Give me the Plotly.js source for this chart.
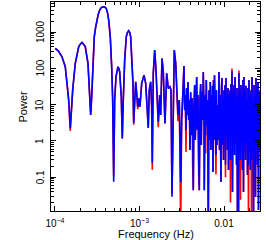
<!DOCTYPE html>
<html>
<head>
<meta charset="utf-8">
<script src="https://cdn.plot.ly/plotly-3.0.1.min.js"></script>
<style>html,body{margin:0;padding:0;background:#fff;}#chart{width:266px;height:240px;}</style>
</head>
<body>
<div id="chart"></div>
<script>
const freq = [
1.008e-4,1.100e-4,1.210e-4,1.324e-4,1.387e-4,1.453e-4,1.517e-4,1.559e-4,1.620e-4,1.739e-4,
1.908e-4,1.995e-4,2.087e-4,2.180e-4,2.284e-4,2.458e-4,2.545e-4,2.646e-4,2.719e-4,2.793e-4,2.918e-4,
3.015e-4,3.141e-4,3.254e-4,3.381e-4,3.531e-4,3.698e-4,3.875e-4,4.045e-4,4.193e-4,4.320e-4,4.428e-4,
4.512e-4,4.688e-4,4.817e-4,4.950e-4,5.087e-4,5.271e-4,5.418e-4,5.566e-4,5.705e-4,5.830e-4,
6.090e-4,6.257e-4,6.431e-4,6.681e-4,6.979e-4,7.191e-4,7.450e-4,7.677e-4,7.866e-4,8.149e-4,
8.375e-4,8.537e-4,8.772e-4,9.016e-4,9.341e-4,9.521e-4,9.864e-4,1.0137e-3,1.0617e-3,1.1304e-3,
1.1841e-3,1.2368e-3,1.2709e-3,1.3061e-3,1.3567e-3,1.3943e-3,1.4173e-3,1.4564e-3,1.5131e-3,1.5677e-3,
1.6242e-3,1.6690e-3,1.7340e-3,1.7822e-3,1.8462e-3,1.9128e-3,1.9656e-3,2.0036e-3,2.0989e-3,2.1919e-3,
2.2961e-3,2.3595e-3,2.4246e-3,2.4914e-3,2.5812e-3,2.6816e-3,2.7555e-3,2.8549e-3,2.9580e-3,3.0733e-3,
3.1580e-3,3.2721e-3,
3.362e-3,3.427e-3,3.483e-3,3.550e-3,3.618e-3,3.678e-3,3.749e-3,3.821e-3,3.885e-3,3.959e-3,
4.035e-3,4.101e-3,4.181e-3,4.262e-3,4.331e-3,4.415e-3,4.500e-3,4.574e-3,4.662e-3,4.752e-3,
4.830e-3,4.923e-3,5.018e-3,5.101e-3,5.199e-3,5.299e-3,5.386e-3,5.490e-3,5.596e-3,5.687e-3,
5.797e-3,5.845e-3,5.957e-3,6.072e-3,6.172e-3,6.291e-3,6.412e-3,6.518e-3,6.643e-3,6.771e-3,
6.883e-3,
7.015e-3,7.111e-3,7.209e-3,7.308e-3,7.408e-3,7.510e-3,7.613e-3,7.717e-3,7.823e-3,7.930e-3,
8.039e-3,8.149e-3,8.261e-3,8.374e-3,8.489e-3,8.605e-3,8.724e-3,8.844e-3,8.965e-3,9.088e-3,
9.212e-3,9.338e-3,9.467e-3,9.597e-3,9.728e-3,9.861e-3,9.997e-3,1.0134e-2,1.0273e-2,1.0414e-2,
1.0557e-2,1.0702e-2,1.0849e-2,1.0998e-2,1.1148e-2,1.1301e-2,1.1456e-2,1.1613e-2,1.1773e-2,1.1934e-2,
1.2098e-2,1.2264e-2,1.2432e-2,1.2603e-2,1.2776e-2,1.2951e-2,1.3129e-2,1.3309e-2,1.3491e-2,1.3676e-2,
1.3864e-2,1.4054e-2,1.4247e-2,1.4443e-2,1.4640e-2,1.4841e-2,1.5045e-2,1.5251e-2,1.5460e-2,1.5672e-2,
1.5887e-2,1.6105e-2,1.6326e-2,1.6550e-2,1.6777e-2,1.7007e-2,1.7240e-2,1.7476e-2,1.7716e-2,1.7959e-2,
1.8206e-2,1.8456e-2,1.8709e-2,1.8966e-2,1.9225e-2,1.9489e-2,1.9756e-2,2.0027e-2,2.0302e-2,2.0581e-2,
2.0863e-2,2.1149e-2,2.1439e-2,2.1733e-2,2.2031e-2,2.2333e-2,2.2640e-2,2.2950e-2,2.3265e-2,2.3584e-2,
2.3907e-2,2.4235e-2,2.4568e-2,2.4905e-2,2.5246e-2,2.5593e-2,2.5943e-2,2.6299e-2,2.6660e-2,2.7026e-2,
2.7396e-2
];

const powerBlue = [
356,300,209,111,38.6,13.4,2.22,7.1,25.2,137,
394,467,520,467,394,137,31,5.2,16.5,111,743,
1290,2140,3130,4040,4730,4980,4890,4500,3340,2140,1290,
743,111,13.4,0.075,13.4,58.7,95,111,98.6,80.6,
16.5,1.18,13.4,169,743,968,1090,968,743,209,
38.6,3.17,20.5,42.8,16.5,8.75,14.9,8.75,38.6,65.3,
38.6,8.75,2.3,25.2,42.8,8.75,0.25,72.8,319,89.8,
13.4,3.38,18.4,5.2,188,80.6,10.9,3.05,72.8,28.1,
31.1,25.2,0.029,11.1,319,140,25.2,5.2,13.4,0.074,
3.8,48,
116,7.1,18.4,2.0,29,5.2,42,3.8,13.4,0.56,
22,1.45,15.2,2.7,0.044,9.8,35,1.06,25,58,
2.0,18.4,0.30,0.044,13.4,37,0.77,22,3.8,79,
7.1,0.044,18.4,1.45,48,2.7,13.4,0.004,25,1.06,
42,
0.56,18.4,1.45,33,0.139,48,1.06,65,2.7,13.4,
0.41,25,0.77,9.8,2.0,1.06,79,0.56,18.4,2.3,
0.074,29,54,0.77,13.4,0.30,25,1.2,35,0.22,
54,2.0,15.2,0.56,29,0.158,18.4,1.06,25,0.30,
37,1.45,84,0.039,22,0.77,35,0.41,58,2.0,
13.4,0.22,29,0.004,18.4,0.004,74,0.56,25,0.30,
35,1.06,17.3,0.158,48,0.039,58,0.77,22,0.30,
33,1.45,13.4,0.115,29,0.22,48,0.56,18.4,0.158,
25,0.30,58,1.06,13.4,0.004,35,0.41,22,0.0285,
54,0.77,29,0.22,42,0.0125,18.4,0.56,25,1.06,
13.4
];

const powerRed = [
356,300,209,111,38.6,13.4,1.9,7.1,25.2,137,
394,467,520,467,394,137,31,5.2,16.5,111,743,
1290,2140,3130,4040,4730,4980,4890,4500,3340,2140,1290,
743,111,13.4,0.11,13.4,58.7,95,111,98.6,80.6,
16.5,1.18,13.4,169,743,968,1090,968,743,209,
38.6,2.8,20.5,42.8,16.5,7.5,14.9,8.75,38.6,65.3,
38.6,8.75,2.3,25.2,42.8,8.75,0.16,72.8,319,89.8,
13.4,2.4,18.4,5.2,188,80.6,10.9,3.05,72.8,28.1,
31.1,25.2,0.035,11.1,319,140,25.2,3.5,13.4,0.004,
3.8,48,
116,7.1,18.4,0.5,29,5.2,42,3.8,13.4,0.56,
22,1.45,15.2,0.2,0.044,9.8,35,1.06,25,58,
2.0,18.4,0.12,0.044,13.4,37,0.77,22,3.8,79,
7.1,0.044,18.4,0.45,48,2.7,13.4,0.004,25,1.06,
42,
0.56,18.4,1.45,33,0.139,48,1.06,65,2.7,13.4,
0.12,25,0.77,9.8,2.0,1.06,79,0.56,18.4,2.3,
0.074,29,54,0.77,13.4,0.30,25,1.2,35,0.1,
54,2.0,15.2,0.56,29,0.158,18.4,1.06,25,0.02,
37,1.45,100,0.039,22,0.77,35,0.41,58,2.0,
13.4,0.22,29,0.004,18.4,0.004,88,0.56,25,0.024,
35,1.06,17.3,0.158,48,0.039,58,0.77,22,0.30,
33,1.45,13.4,0.115,29,0.004,48,0.56,18.4,0.158,
25,0.004,58,1.06,13.4,0.004,35,0.41,22,0.0285,
54,0.77,29,0.22,42,0.0125,18.4,0.56,25,1.06,
13.4
];

const xTickVals = [1e-4, 1e-3, 1e-2];
const xTickText = ['10<sup>\u22124</sup>', '10<sup>\u22123</sup>', '0.01'];
const yTickVals = [0.1, 1, 10, 100, 1000];
const yTickText = ['0.1', '1', '10', '100', '1000'];

// minor tick positions (2..9 within each decade) for axis decoration
function minorTicks(lo, hi) {
  const out = [];
  for (let e = lo; e <= hi; e++) for (let d = 2; d <= 9; d++) out.push(d * Math.pow(10, e));
  return out;
}

const font = 'Liberation Sans, Arial, sans-serif';

const traces = [
  {x: freq, y: powerRed, type: 'scatter', mode: 'lines',
   line: {color: '#ff0000', width: 1.6}, hoverinfo: 'skip'},
  {x: freq, y: powerBlue, type: 'scatter', mode: 'lines',
   line: {color: '#0000ff', width: 1.6}, hoverinfo: 'skip'}
];

function axis(extra) {
  return Object.assign({
    type: 'log', showgrid: false, zeroline: false, showline: true,
    linecolor: '#000', linewidth: 1, mirror: 'allticks',
    ticks: 'inside', ticklen: 5, tickcolor: '#000', tickwidth: 1,
    tickmode: 'array', tickfont: {family: font, size: 10, color: '#000'}
  }, extra);
}

// rotated y tick labels (reading bottom-to-top) placed on the y axis scale
const yLabelAnnotations = yTickVals.map(function (v, i) {
  return {
    x: 0, xref: 'paper', xanchor: 'center', xshift: -11,
    y: Math.log10(v), yref: 'y', yanchor: 'middle',
    text: yTickText[i], textangle: -90, showarrow: false,
    font: {family: font, size: 10, color: '#000'}
  };
});

const layout = {
  width: 266, height: 240,
  margin: {l: 51, r: 6, t: 2, b: 29},
  paper_bgcolor: '#fff', plot_bgcolor: '#fff',
  showlegend: false,
  font: {family: font, color: '#000'},
  xaxis: axis({
    range: [-4.047, -1.574],
    tickvals: xTickVals, ticktext: xTickText,
    ticklabelstandoff: 3,
    minor: {tickmode: 'array', tickvals: minorTicks(-5, -2), ticks: 'inside', ticklen: 3, tickcolor: '#000', showgrid: false}
  }),
  yaxis: axis({
    range: [-1.93, 3.83],
    tickvals: yTickVals, showticklabels: false,
    minor: {tickmode: 'array', tickvals: minorTicks(-2, 3), ticks: 'inside', ticklen: 3, tickcolor: '#000', showgrid: false}
  }),
  annotations: yLabelAnnotations.concat([
    {
      x: 0, xref: 'paper', xanchor: 'center', xshift: -29,
      y: 0.5, yref: 'paper', yanchor: 'middle',
      text: 'Power', textangle: -90, showarrow: false,
      font: {family: font, size: 11, color: '#000'}
    },
    {
      x: 0.5, xref: 'paper', xanchor: 'center',
      y: 0, yref: 'paper', yanchor: 'middle', yshift: -23,
      text: 'Frequency (Hz)', showarrow: false,
      font: {family: font, size: 11, color: '#000'}
    }
  ])
};

Plotly.newPlot('chart', traces, layout, {staticPlot: true, displayModeBar: false});
</script>
</body>
</html>
